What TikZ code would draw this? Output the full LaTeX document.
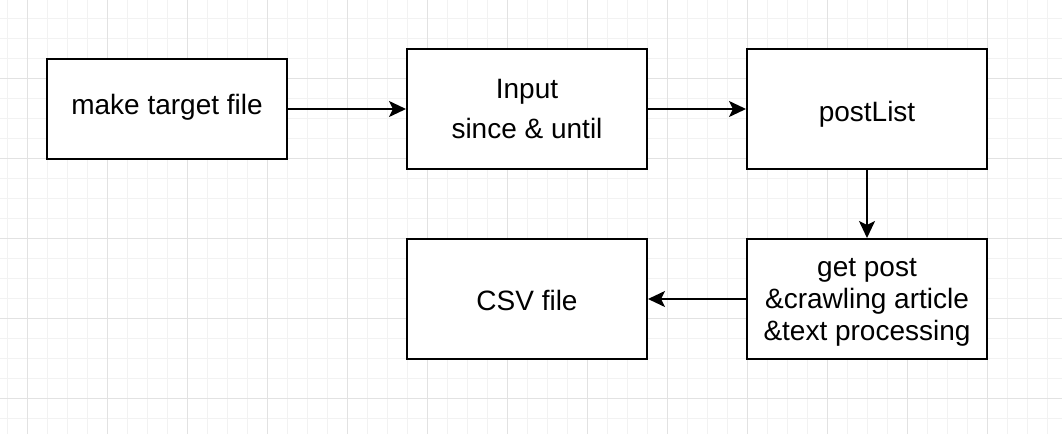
\documentclass[tikz,border=0pt]{standalone}
\usepackage{fontspec}
\setmainfont{Liberation Sans}
\usetikzlibrary{arrows.meta}
\definecolor{gridminor}{HTML}{F2F2F2}
\definecolor{gridmajor}{HTML}{E2E2E2}
\begin{document}
\begin{tikzpicture}[x=1pt,y=-1pt,
  box/.style={draw=black, line width=2pt, fill=white, minimum width=240pt,
    inner sep=0pt, align=center, font=\fontsize{28}{32}\selectfont},
  conn/.style={line width=2pt, -{Stealth[length=17pt,width=16pt,inset=4pt]}},
  gminor/.style={draw=gridminor, line width=1pt},
  gmajor/.style={draw=gridmajor, line width=1pt}]
\fill[white] (0,0) rectangle (1062,434);
\useasboundingbox (0,0) rectangle (1062,434);
% grid
\foreach \i in {0,...,52} \draw[gminor] ({7+20*\i},0) -- ({7+20*\i},434);
\foreach \i in {0,...,20} \draw[gminor] (0,{18+20*\i}) -- (1062,{18+20*\i});
\foreach \i in {0,...,12} \draw[gmajor] ({27+80*\i},0) -- ({27+80*\i},434);
\foreach \i in {0,...,4} \draw[gmajor] (0,{78+80*\i}) -- (1062,{78+80*\i});
% boxes
\node[box, minimum height=100pt, text height=15pt, text depth=5pt] (make) at (167,109) {make target file};
\node[box, minimum height=120pt, text depth=0pt, font=\fontsize{28}{40}\selectfont] (input) at (527,109) {Input\\since \& until};
\node[box, minimum height=120pt, text height=24pt, text depth=0pt] (post) at (867,109) {postList};
\node[box, minimum height=120pt, text depth=0pt] (get) at (867,299) {get post\\\&crawling article\\\&text processing};
\node[box, minimum height=120pt, text height=22pt, text depth=0pt] (csv) at (527,299) {CSV file};
% connectors
\draw[conn] (make) -- (input);
\draw[conn] (input) -- (post);
\draw[conn] (post) -- (get);
\draw[conn] (get) -- (csv);
\end{tikzpicture}
\end{document}
